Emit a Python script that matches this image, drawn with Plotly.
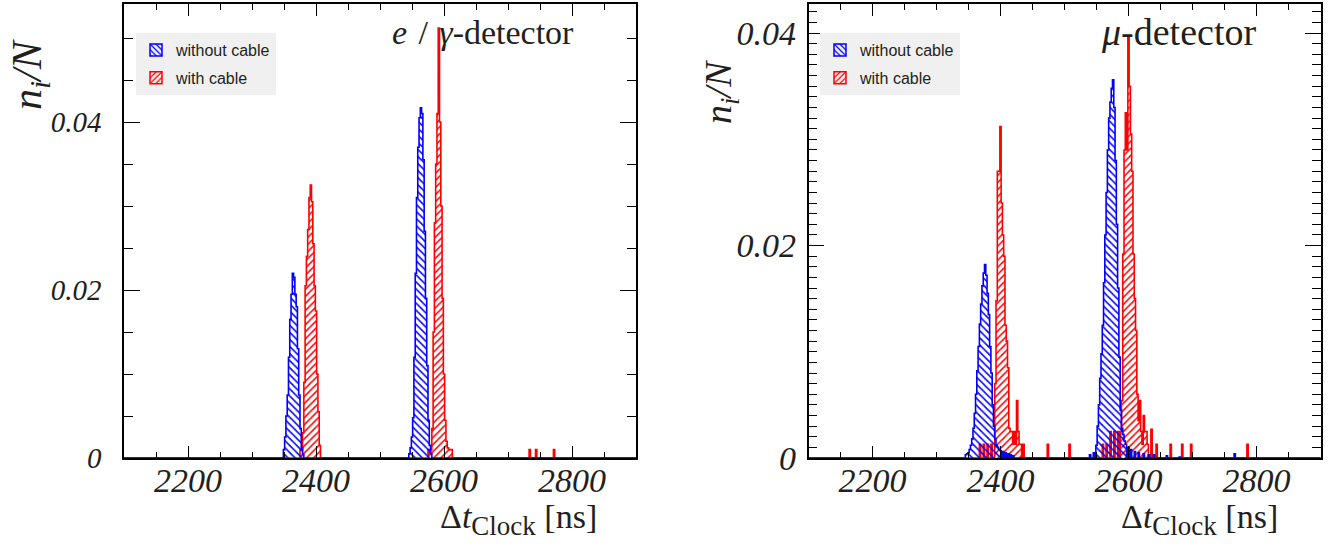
import plotly.graph_objects as go

# ---------------------------------------------------------------------------
# Histogram contents (n_i / N) for 2 ns bins, listed by bin centre [ns].
# Bins not listed are empty.
# ---------------------------------------------------------------------------

# e/gamma-detector, without cable
eg_nocable_t = [2350, 2352, 2354, 2356, 2358, 2360, 2362, 2364, 2366, 2368,
                2370, 2372, 2374, 2376, 2378, 2380,
                2546, 2548, 2550, 2552, 2554, 2556, 2558, 2560, 2562, 2564,
                2566, 2568, 2570, 2572, 2574, 2576, 2578, 2580]
eg_nocable_n = [0.0010, 0.0025, 0.0050, 0.0075, 0.0120, 0.0165, 0.0195, 0.0220, 0.0215, 0.0195,
                0.0180, 0.0130, 0.0075, 0.0035, 0.0012, 0.0004,
                0.0005, 0.0012, 0.0025, 0.0048, 0.0120, 0.0220, 0.0310, 0.0370, 0.0405, 0.0417,
                0.0410, 0.0355, 0.0270, 0.0190, 0.0110, 0.0045, 0.0015, 0.0005]

# e/gamma-detector, with cable
eg_cable_t = [2376, 2378, 2380, 2382, 2384, 2386, 2388, 2390, 2392, 2394,
              2396, 2398, 2400, 2402, 2404, 2406,
              2576, 2578, 2580, 2582, 2584, 2586, 2588, 2590, 2592, 2594,
              2596, 2598, 2600, 2602, 2604, 2606, 2608, 2610, 2612,
              2734, 2744, 2772]
eg_cable_n = [0.0010, 0.0010, 0.0030, 0.0090, 0.0205, 0.0240, 0.0272, 0.0310, 0.0325, 0.0305,
              0.0255, 0.0205, 0.0175, 0.0100, 0.0055, 0.0015,
              0.0010, 0.0005, 0.0010, 0.0035, 0.0150, 0.0280, 0.0350, 0.0410, 0.0512, 0.0400,
              0.0300, 0.0190, 0.0100, 0.0045, 0.0020, 0.0012, 0.0010, 0.0010, 0.0010,
              0.0010, 0.0010, 0.0010]

# mu-detector, without cable
mu_nocable_t = [2346, 2348, 2350, 2352, 2354, 2356, 2358, 2360, 2362, 2364, 2366, 2368,
                2370, 2372, 2374, 2376, 2378, 2380, 2382, 2384, 2386, 2388, 2390,
                2392, 2394, 2396, 2398, 2400, 2404, 2408, 2412, 2416, 2420,
                2540, 2546, 2550, 2552, 2554, 2556, 2558, 2560, 2562, 2564, 2566,
                2568, 2570, 2572, 2574, 2576, 2578, 2580, 2582, 2584, 2586, 2588,
                2590, 2592, 2594, 2596, 2600, 2604, 2610, 2616, 2624, 2632, 2640,
                2660, 2680, 2766]
mu_nocable_n = [0.0003, 0.0004, 0.0005, 0.0008, 0.0012, 0.0018, 0.0028, 0.0042, 0.0060, 0.0082, 0.0105, 0.0126,
                0.0145, 0.0162, 0.0174, 0.0182, 0.0172, 0.0155, 0.0135, 0.0105, 0.0080, 0.0050, 0.0030,
                0.0018, 0.0012, 0.0010, 0.0008, 0.0007, 0.0006, 0.0005, 0.0004, 0.0003, 0.0002,
                0.0003, 0.0005, 0.0012, 0.0030, 0.0050, 0.0075, 0.0098, 0.0125, 0.0165, 0.0210, 0.0250,
                0.0290, 0.0320, 0.0335, 0.0348, 0.0356, 0.0330, 0.0280, 0.0220, 0.0160, 0.0095, 0.0045,
                0.0028, 0.0022, 0.0016, 0.0013, 0.0010, 0.0008, 0.0006, 0.0005, 0.0004, 0.0003, 0.0003,
                0.0002, 0.0001, 0.0004]

# mu-detector, with cable
mu_cable_t = [2368, 2374, 2380, 2386, 2392, 2394, 2396, 2398,
              2400, 2402, 2404, 2406, 2408, 2410, 2412, 2414, 2416, 2418,
              2420, 2422, 2424, 2426, 2428, 2430, 2432, 2436, 2474, 2508,
              2560, 2566, 2572, 2578, 2584, 2588, 2590, 2592,
              2594, 2596, 2598, 2600, 2602, 2604, 2606, 2608, 2610, 2612,
              2614, 2616, 2618, 2620, 2622, 2624, 2626, 2628, 2630, 2636,
              2644, 2666, 2684, 2698, 2786]
mu_cable_n = [0.0013, 0.0013, 0.0013, 0.0013, 0.0070, 0.0148, 0.0270, 0.0270,
              0.0312, 0.0240, 0.0210, 0.0190, 0.0125, 0.0110, 0.0085, 0.0028, 0.0025, 0.0025,
              0.0013, 0.0025, 0.0013, 0.0054, 0.0025, 0.0013, 0.0013, 0.0013, 0.0013, 0.0013,
              0.0013, 0.0013, 0.0025, 0.0025, 0.0025, 0.0025, 0.0054, 0.0192,
              0.0290, 0.0325, 0.0290, 0.0397, 0.0350, 0.0305, 0.0270, 0.0192, 0.0150, 0.0120,
              0.0060, 0.0035, 0.0054, 0.0025, 0.0013, 0.0040, 0.0025, 0.0025, 0.0013, 0.0027,
              0.0013, 0.0013, 0.0013, 0.0013, 0.0013]

x_tick_vals = [2200, 2400, 2600, 2800]
y_tick_vals = [0, 0.02, 0.04]
series_names = ["without cable", "with cable"]

# ---------------------------------------------------------------------------
T_MIN, T_MAX, BIN_W = 2100, 2900, 2
BLUE, RED = "#0000ff", "#ff0000"
TEXT = "#231f20"
W, H = 1335, 547
SERIF = "Liberation Serif"


def step_outline(centres, contents):
    """Full-range histogram as step-line vertices (bin edges, contents)."""
    lookup = dict(zip(centres, contents))
    grid = list(range(T_MIN, T_MAX + BIN_W, BIN_W))
    edges = [c - BIN_W / 2 for c in grid] + [grid[-1] + BIN_W / 2]
    vals = [lookup.get(c, 0.0) for c in grid]
    return edges, vals + [vals[-1]]


def px_x(p):
    return p / W


def px_y(p):
    return 1 - p / H


fig = go.Figure()

panels = [
    dict(xa="x", ya="y", legend="legend",
         blue=(eg_nocable_t, eg_nocable_n), red=(eg_cable_t, eg_cable_n)),
    dict(xa="x2", ya="y2", legend="legend2",
         blue=(mu_nocable_t, mu_nocable_n), red=(mu_cable_t, mu_cable_n)),
]

for p in panels:
    # legend entries: hatched boxes
    for name, col, shape in [(series_names[0], BLUE, "\\"), (series_names[1], RED, "/")]:
        fig.add_trace(go.Bar(
            x=[None], y=[None], name=name, xaxis=p["xa"], yaxis=p["ya"],
            legend=p["legend"], legendgroup=p["legend"] + name,
            marker=dict(color="rgba(0,0,0,0)", line=dict(color=col, width=1.5),
                        pattern=dict(shape=shape, fgcolor=col, bgcolor="rgba(0,0,0,0)",
                                     size=5, solidity=0.3)),
            showlegend=True, hoverinfo="skip"))
    # histograms: red first, blue drawn on top
    for key, col, shape in [("red", RED, "/"), ("blue", BLUE, "\\")]:
        ex, ey = step_outline(*p[key])
        fig.add_trace(go.Scatter(
            x=ex, y=ey, mode="lines", xaxis=p["xa"], yaxis=p["ya"],
            line=dict(color=col, width=1.6, shape="hv"),
            fill="tozeroy", fillcolor="rgba(0,0,0,0)",
            fillpattern=dict(shape=shape, fgcolor=col, bgcolor="rgba(0,0,0,0)",
                             size=5, solidity=0.3),
            showlegend=False, hoverinfo="skip"))


def x_axis(dom, anchor):
    return dict(domain=dom, range=[T_MIN, T_MAX], tickvals=x_tick_vals, anchor=anchor,
                automargin=False,
                ticks="inside", ticklen=12, tickwidth=1.2, tickcolor="black",
                minor=dict(dtick=50, tick0=2100, ticks="inside", ticklen=6,
                           tickwidth=1.2, tickcolor="black"),
                showline=True, linecolor="black", linewidth=1.6, mirror="allticks",
                showgrid=False, zeroline=False,
                tickfont=dict(family=SERIF, size=34, color=TEXT, style="italic"),
                ticklabelstandoff=-9)


def y_axis(dom, top, minor_step, anchor, fsize, standoff):
    return dict(domain=dom, range=[0, top], tickvals=y_tick_vals, anchor=anchor,
                automargin=False,
                ticks="inside", ticklen=16, tickwidth=1.2, tickcolor="black",
                minor=dict(dtick=minor_step, tick0=0, ticks="inside", ticklen=9,
                           tickwidth=1.2, tickcolor="black"),
                showline=True, linecolor="black", linewidth=1.6, mirror="allticks",
                showgrid=False, zeroline=False,
                tickfont=dict(family=SERIF, size=fsize, color=TEXT, style="italic"),
                ticklabelstandoff=standoff)


ydom = [px_y(458), px_y(4)]
legend_style = dict(xanchor="left", yanchor="top", bgcolor="#f0f0f0",
                    font=dict(family="Liberation Sans", size=16, color=TEXT),
                    tracegroupgap=4, traceorder="grouped")
fig.update_layout(
    template="none",
    width=W, height=H, margin=dict(l=0, r=0, t=0, b=0, pad=0),
    paper_bgcolor="white", plot_bgcolor="white",
    xaxis=x_axis([px_x(124), px_x(636)], "y"),
    yaxis=y_axis(ydom, 0.05405, 0.005, "x", 29, 15),
    xaxis2=x_axis([px_x(808.5), px_x(1320.5)], "y2"),
    yaxis2=y_axis(ydom, 0.04274, 0.001, "x2", 34, 4),
    bargap=0,
    legend=dict(x=px_x(136), y=px_y(33), **legend_style),
    legend2=dict(x=px_x(820), y=px_y(33), **legend_style),
)

xtitle = "Δ<i>t</i><sub><span style='font-size:27px'>Clock</span></sub> [ns]"
ytitle = "<i>n<sub>i</sub>/N</i>"
annotations = [
    # panel labels
    dict(text="<i>e</i>\u2004/\u2004<i>γ</i>-detector", x=px_x(576), y=px_y(32),
         xanchor="right", yanchor="middle", font=dict(family=SERIF, size=34, color=TEXT)),
    dict(text="<i>μ</i>-detector", x=px_x(1258), y=px_y(32),
         xanchor="right", yanchor="middle", font=dict(family=SERIF, size=38, color=TEXT)),
    # x titles
    dict(text=xtitle, x=px_x(599), y=px_y(519),
         xanchor="right", yanchor="middle", font=dict(family=SERIF, size=34, color=TEXT)),
    dict(text=xtitle, x=px_x(1280), y=px_y(519),
         xanchor="right", yanchor="middle", font=dict(family=SERIF, size=34, color=TEXT)),
    # y titles
    dict(text=ytitle, x=px_x(30), y=px_y(75), textangle=-90,
         xanchor="center", yanchor="middle", font=dict(family=SERIF, size=42, color=TEXT)),
    dict(text=ytitle, x=px_x(721), y=px_y(92), textangle=-90,
         xanchor="center", yanchor="middle", font=dict(family=SERIF, size=38, color=TEXT)),
]
for a in annotations:
    a.update(xref="paper", yref="paper", showarrow=False)
fig.update_layout(annotations=annotations)

fig.write_html("out.html")
